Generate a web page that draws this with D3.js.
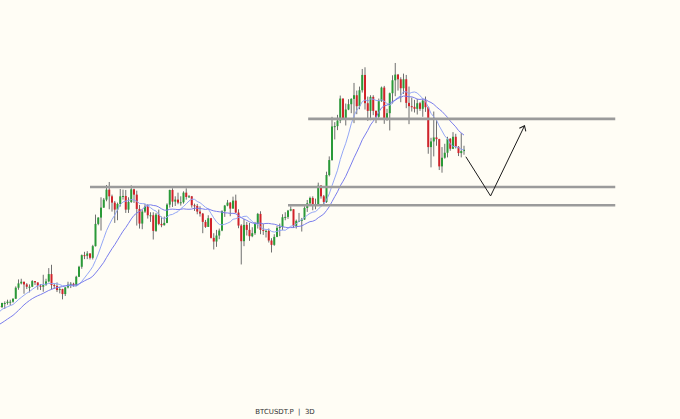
<!DOCTYPE html>
<html><head><meta charset="utf-8">
<script src="https://cdn.jsdelivr.net/npm/d3@7"></script>
<style>html,body{margin:0;padding:0;background:#fffdf5;}svg{display:block;}</style>
</head><body>
<svg id="chart" width="680" height="419"></svg>
<script>
// BTCUSDT.P, 3-day candles (prices in thousand USDT)
const dates = ["2023-11-14","2023-11-17","2023-11-20","2023-11-23","2023-11-26","2023-11-29","2023-12-02","2023-12-05","2023-12-08","2023-12-11",
"2023-12-14","2023-12-17","2023-12-20","2023-12-23","2023-12-26","2023-12-29","2024-01-01","2024-01-04","2024-01-07","2024-01-10",
"2024-01-13","2024-01-16","2024-01-19","2024-01-22","2024-01-25","2024-01-28","2024-01-31","2024-02-03","2024-02-06","2024-02-09",
"2024-02-12","2024-02-15","2024-02-18","2024-02-21","2024-02-24","2024-02-27","2024-03-01","2024-03-04","2024-03-07","2024-03-10",
"2024-03-13","2024-03-16","2024-03-19","2024-03-22","2024-03-25","2024-03-28","2024-03-31","2024-04-03","2024-04-06","2024-04-09",
"2024-04-12","2024-04-15","2024-04-18","2024-04-21","2024-04-24","2024-04-27","2024-04-30","2024-05-03","2024-05-06","2024-05-09",
"2024-05-12","2024-05-15","2024-05-18","2024-05-21","2024-05-24","2024-05-27","2024-05-30","2024-06-02","2024-06-05","2024-06-08",
"2024-06-11","2024-06-14","2024-06-17","2024-06-20","2024-06-23","2024-06-26","2024-06-29","2024-07-02","2024-07-05","2024-07-08",
"2024-07-11","2024-07-14","2024-07-17","2024-07-20","2024-07-23","2024-07-26","2024-07-29","2024-08-01","2024-08-04","2024-08-07",
"2024-08-10","2024-08-13","2024-08-16","2024-08-19","2024-08-22","2024-08-25","2024-08-28","2024-08-31","2024-09-03","2024-09-06",
"2024-09-09","2024-09-12","2024-09-15","2024-09-18","2024-09-21","2024-09-24","2024-09-27","2024-09-30","2024-10-03","2024-10-06",
"2024-10-09","2024-10-12","2024-10-15","2024-10-18","2024-10-21","2024-10-24","2024-10-27","2024-10-30","2024-11-02","2024-11-05",
"2024-11-08","2024-11-11","2024-11-14","2024-11-17","2024-11-20","2024-11-23","2024-11-26","2024-11-29","2024-12-02","2024-12-05",
"2024-12-08","2024-12-11","2024-12-14","2024-12-17","2024-12-20","2024-12-23","2024-12-26","2024-12-29","2025-01-01","2025-01-04",
"2025-01-07","2025-01-10","2025-01-13","2025-01-16","2025-01-19","2025-01-22","2025-01-25","2025-01-28","2025-01-31","2025-02-03",
"2025-02-06","2025-02-09","2025-02-12","2025-02-15","2025-02-18","2025-02-21","2025-02-24","2025-02-27","2025-03-02","2025-03-05",
"2025-03-08","2025-03-11","2025-03-14","2025-03-17","2025-03-20","2025-03-23","2025-03-26","2025-03-29","2025-04-01","2025-04-04"];

const open = [36.5,36.2,37.4,37.4,37.8,37.8,38.7,42.0,43.3,43.8,
43.0,42.3,42.3,44.0,43.6,42.6,42.3,42.8,43.9,46.1,
42.8,42.5,41.3,41.6,40.1,42.1,42.9,43.2,42.7,45.3,
48.3,51.8,51.6,52.3,51.0,54.5,61.2,63.1,66.1,68.5,
71.5,69.5,67.6,65.5,67.2,69.5,69.6,65.5,67.8,71.6,
70.0,65.7,61.3,64.9,66.4,63.8,63.8,59.1,64.0,61.2,
60.8,61.5,67.0,71.4,67.9,68.5,67.6,67.7,70.6,69.3,
69.5,66.8,66.6,64.9,64.3,61.8,60.3,62.9,57.0,55.9,
57.7,59.2,65.0,66.7,67.6,65.8,68.2,64.6,60.7,56.0,
60.9,59.4,57.5,58.4,61.2,64.2,59.4,59.1,59.1,56.2,
54.9,57.3,60.0,60.3,63.2,63.3,65.2,65.6,60.6,62.1,
62.1,62.5,66.0,67.4,69.0,66.7,67.0,72.7,69.5,67.8,
75.9,80.4,90.5,90.6,92.3,98.9,93.0,95.6,97.2,98.8,
99.9,96.6,101.4,106.0,97.5,95.2,99.4,95.2,93.4,98.1,
102.2,92.5,94.5,100.5,104.4,106.1,104.7,102.0,104.7,97.6,
96.6,96.4,95.8,97.5,95.8,98.3,96.3,84.3,86.0,87.2,
86.7,78.5,81.1,82.6,86.8,83.8,87.4,84.4,82.5,83.1];

const high = [38.0,37.5,37.9,38.4,38.4,38.8,42.4,44.5,44.7,43.8,
43.4,43.0,44.3,44.0,43.6,43.1,45.9,44.7,47.9,48.9,
43.3,43.6,42.2,41.7,42.2,43.8,43.7,43.5,45.6,48.6,
52.0,52.8,53.0,52.4,54.9,64.0,63.2,69.2,69.0,72.9,
73.8,70.0,68.1,67.6,71.7,71.5,71.4,69.2,72.8,71.8,
71.2,66.9,65.5,67.2,67.1,64.7,64.7,64.5,65.5,63.4,
63.4,67.4,71.5,71.9,69.5,70.6,69.5,71.0,71.9,69.9,
69.6,67.3,67.2,66.5,64.5,62.4,63.8,63.0,58.4,59.4,
59.8,65.3,66.9,68.4,67.8,69.4,70.0,65.6,61.1,62.7,
61.8,61.5,60.2,61.8,64.5,65.0,61.2,59.4,59.8,56.9,
58.1,60.6,61.3,64.1,64.7,65.4,66.5,65.6,62.5,64.5,
63.0,66.5,68.4,69.4,69.5,68.8,73.6,72.9,69.9,76.9,
81.5,93.4,91.8,94.0,99.8,98.9,97.4,98.7,99.0,103.6,
101.3,102.5,107.8,108.3,99.5,99.9,99.9,95.3,98.9,102.5,
102.7,95.8,100.7,105.9,109.6,106.3,105.3,106.4,106.0,102.5,
99.2,98.5,98.8,97.9,98.7,99.5,96.5,87.1,95.0,92.8,
86.8,84.3,85.3,87.4,87.0,88.8,88.3,84.6,88.5,84.7];

const low = [35.2,35.9,35.6,36.9,36.7,37.5,38.6,41.4,43.0,40.2,
41.6,40.6,42.2,42.8,41.4,41.3,40.8,42.6,43.6,41.5,
41.7,40.7,40.3,38.5,39.5,41.8,41.9,42.3,42.6,45.2,
47.7,50.6,50.6,50.5,50.5,54.4,60.8,59.2,66.0,68.0,
65.6,64.9,61.5,62.3,66.4,68.5,64.5,64.5,67.5,67.5,
60.7,59.8,59.6,64.5,62.8,61.8,56.5,58.8,60.8,60.2,
60.7,61.4,66.1,66.3,66.6,67.1,66.7,67.3,68.5,69.0,
66.1,65.1,64.1,63.4,58.4,60.0,60.3,56.8,53.5,54.3,
56.6,59.0,63.3,66.5,63.5,65.8,64.5,59.9,49.0,54.5,
57.7,56.1,57.2,57.9,59.8,58.1,57.9,57.1,55.6,52.6,
54.6,57.2,57.5,59.3,62.3,62.7,65.0,60.0,59.8,61.9,
58.9,62.4,64.8,67.1,65.3,65.6,66.8,68.8,66.8,67.5,
75.5,80.2,86.6,89.4,91.5,92.6,90.8,95.4,94.5,91.5,
94.2,95.7,100.7,95.6,92.2,92.4,93.9,91.5,92.8,97.9,
91.3,92.2,89.3,97.4,99.6,101.3,97.8,100.3,96.0,91.2,
95.0,94.7,94.1,95.2,93.4,94.9,82.3,78.2,81.5,84.7,
77.4,76.6,80.8,81.2,83.2,83.7,83.9,81.6,81.2,82.0];

const close = [36.2,37.4,37.4,37.8,37.8,38.7,42.0,43.3,43.8,43.0,
42.3,42.3,44.0,43.6,42.6,42.3,42.8,43.9,46.1,42.8,
42.5,41.3,41.6,40.1,42.1,42.9,43.2,42.7,45.3,48.3,
51.8,51.6,52.3,51.0,54.5,61.2,63.1,66.1,68.5,71.5,
69.5,67.6,65.5,67.2,69.5,69.6,65.5,67.8,71.6,70.0,
65.7,61.3,64.9,66.4,63.8,63.8,59.1,64.0,61.2,60.8,
61.5,67.0,71.4,67.9,68.5,67.6,67.7,70.6,69.3,69.5,
66.8,66.6,64.9,64.3,61.8,60.3,62.9,57.0,55.9,57.7,
59.2,65.0,66.7,67.6,65.8,68.2,64.6,60.7,56.0,60.9,
59.4,57.5,58.4,61.2,64.2,59.4,59.1,59.1,56.2,54.9,
57.3,60.0,60.3,63.2,63.3,65.2,65.6,60.6,62.1,62.1,
62.5,66.0,67.4,69.0,66.7,67.0,72.7,69.5,67.8,75.9,
80.4,90.5,90.6,92.3,98.9,93.0,95.6,97.2,98.8,99.9,
96.6,101.4,106.0,97.5,95.2,99.4,95.2,93.4,98.1,102.2,
92.5,94.5,100.5,104.4,106.1,104.7,102.0,104.7,97.6,96.6,
96.4,95.8,97.5,95.8,98.3,96.3,84.3,86.0,87.2,86.7,
78.5,81.1,82.6,86.8,83.8,87.4,84.4,82.5,83.1,83.5];

// closes of the 19 candles before the first visible one (moving-average warm-up)
const priorCloses = [27.2,26.6,26.2,26.9,27.5,27.4,27.9,26.9,26.9,28.4,29.7,33.0,34.2,34.5,35.4,35.0,35.4,37.3,36.5];

const maPeriods = [10, 20];

// horizontal levels drawn on the chart
const levelPrices = [92.8, 72.3, 66.8];
const levelStarts = ["2024-10-16", "2024-02-21", "2024-09-24"];
const levelEnd = "2025-09-16";

// projected path (arrow)
const projDates = ["2025-04-06", "2025-05-03", "2025-06-09"];
const projPrices = [81.4, 69.6, 90.7];

const title = "BTCUSDT.P  |  3D";

// ---------------------------------------------------------------
const W = 680, H = 419;
const parse = d3.utcParse("%Y-%m-%d");
const t = dates.map(parse);
const svg = d3.select("#chart");
svg.append("rect").attr("width", W).attr("height", H).attr("fill", "#fffdf5");

const x = d3.scaleUtc().domain([t[0], t[t.length - 1]]).range([-0.75, 464]);
const y = d3.scaleLinear().domain([2.52, 128.54]).range([H, 0]);

const candles = dates.map((d, i) => ({ t: t[i], o: open[i], h: high[i], l: low[i], c: close[i] }));

const up = "#2a9a38", down = "#d2222a", wick = "#6f6f6f";

const gC = svg.append("g");
gC.selectAll("line.wick").data(candles).join("line")
  .attr("class", "wick")
  .attr("x1", d => x(d.t)).attr("x2", d => x(d.t))
  .attr("y1", d => y(d.h)).attr("y2", d => y(d.l))
  .attr("stroke", wick).attr("stroke-width", 1);
gC.selectAll("rect.body").data(candles).join("rect")
  .attr("class", "body")
  .attr("x", d => x(d.t) - 1).attr("width", 2)
  .attr("y", d => y(Math.max(d.o, d.c)))
  .attr("height", d => Math.max(1, Math.abs(y(d.o) - y(d.c))))
  .attr("fill", d => d.c >= d.o ? up : down);

// simple moving averages
const allCloses = priorCloses.concat(close);
const off = priorCloses.length;
function sma(n) {
  return candles.map((d, i) => ({ t: d.t, v: d3.mean(allCloses.slice(off + i - n + 1, off + i + 1)) }));
}
const maColors = ["#94a7f5", "#7a7ded"];
const lineGen = d3.line().x(d => x(d.t)).y(d => y(d.v));
maPeriods.forEach((n, k) => {
  svg.append("path").datum(sma(n))
    .attr("d", lineGen).attr("fill", "none")
    .attr("stroke", maColors[k]).attr("stroke-width", 1);
});

// levels
const gL = svg.append("g");
levelPrices.forEach((p, i) => {
  gL.append("line")
    .attr("x1", x(parse(levelStarts[i]))).attr("x2", x(parse(levelEnd)))
    .attr("y1", y(p)).attr("y2", y(p))
    .attr("stroke", "#9b9b9b").attr("stroke-width", 2.6);
});

// arrow
const defs = svg.append("defs");
defs.append("marker").attr("id", "arr")
  .attr("markerUnits", "userSpaceOnUse")
  .attr("viewBox", "-7 -5 8 10").attr("markerWidth", 8).attr("markerHeight", 10)
  .attr("refX", 0).attr("refY", 0).attr("orient", "auto")
  .append("path").attr("d", "M-4.4,-3.6L0,0L-4.4,3.6")
  .attr("fill", "none").attr("stroke", "#1a1a1a").attr("stroke-width", 1);
const proj = projDates.map((d, i) => ({ t: parse(d), v: projPrices[i] }));
svg.append("path").datum(proj)
  .attr("d", lineGen).attr("fill", "none")
  .attr("stroke", "#1a1a1a").attr("stroke-width", 1)
  .attr("marker-end", "url(#arr)");

svg.append("text").attr("x", 285).attr("y", 413.5)
  .attr("text-anchor", "middle")
  .attr("font-family", "DejaVu Sans, sans-serif").attr("font-size", 7)
  .attr("fill", "#333").attr("xml:space", "preserve")
  .text(title);
</script>
</body></html>
